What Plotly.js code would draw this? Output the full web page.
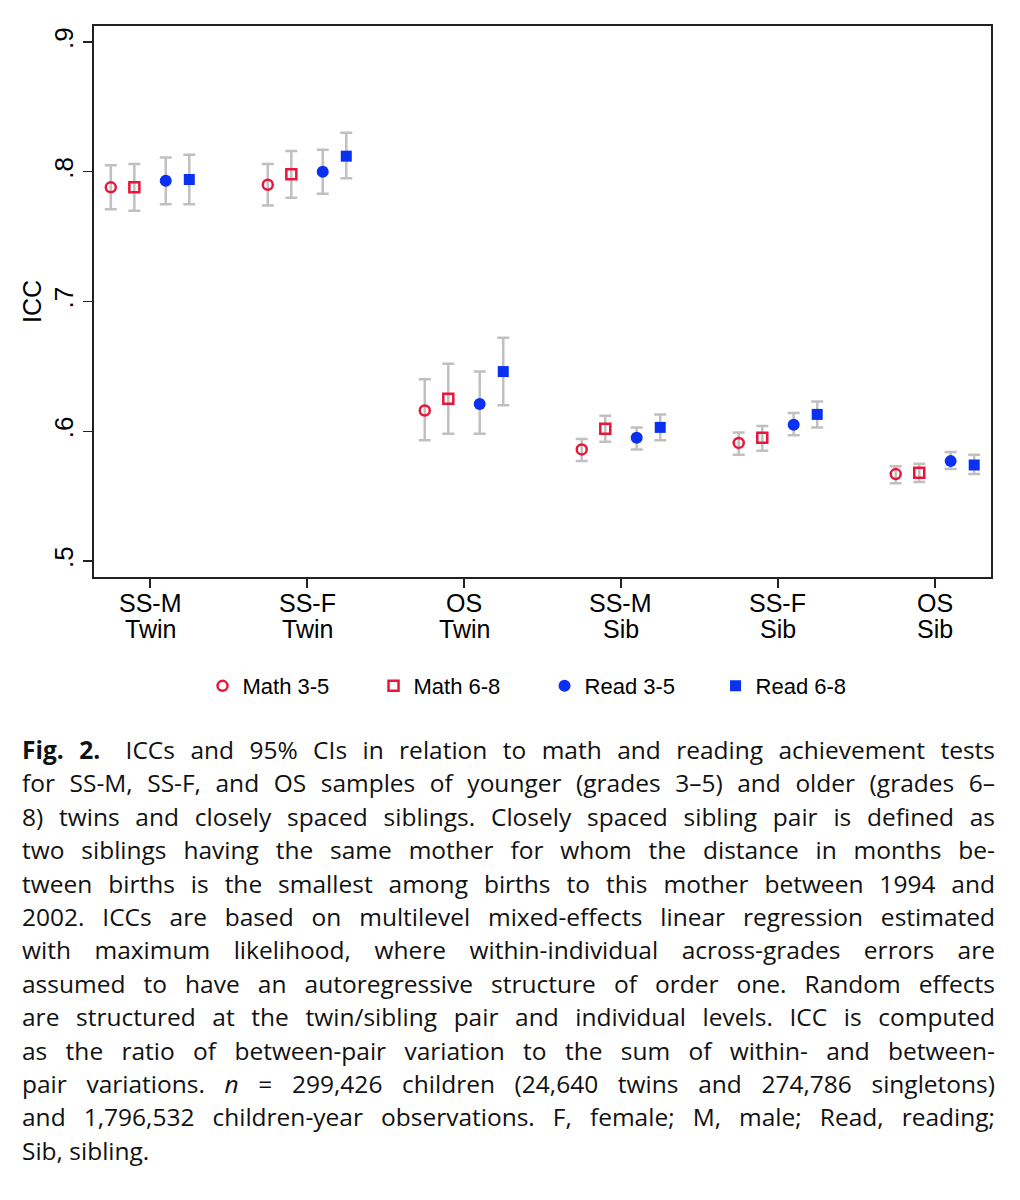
<!DOCTYPE html>
<html>
<head>
<meta charset="utf-8">
<script src="https://cdn.plot.ly/plotly-3.0.1.min.js"></script>
<style>
  html, body { margin: 0; padding: 0; background: #fff; }
  #wrap { position: relative; width: 1020px; height: 1200px; overflow: hidden; }
  #plot { position: absolute; left: 0; top: 0; width: 1020px; height: 720px; }
  #caption { position: absolute; left: 22px; top: 733px; width: 973px;
             font-family: "Open Sans", "Noto Sans", sans-serif; font-size: 24.5px;
             line-height: 33.4px; color: #111; }
  #caption .ln { white-space: nowrap; }
  #caption .ln span.inner { display: inline-block; white-space: nowrap; }
  #caption b { font-weight: 700; margin-right: 10px; }
</style>
</head>
<body>
<div id="wrap">
  <div id="plot"></div>
  <div id="caption"></div>
</div>
<script>
// ---- data ----
const catTop = ['SS-M', 'SS-F', 'OS', 'SS-M', 'SS-F', 'OS'];
const catBottom = ['Twin', 'Twin', 'Twin', 'Sib', 'Sib', 'Sib'];
const yTickVals = [0.5, 0.6, 0.7, 0.8, 0.9];
const yTickText = ['.5', '.6', '.7', '.8', '.9'];
const seriesNames = ['Math 3-5', 'Math 6-8', 'Read 3-5', 'Read 6-8'];

const math35   = [0.788, 0.790, 0.616, 0.586, 0.591, 0.567];
const math35Lo = [0.771, 0.774, 0.593, 0.577, 0.582, 0.560];
const math35Hi = [0.805, 0.806, 0.640, 0.594, 0.599, 0.573];

const math68   = [0.788, 0.798, 0.625, 0.602, 0.595, 0.568];
const math68Lo = [0.770, 0.780, 0.598, 0.592, 0.585, 0.561];
const math68Hi = [0.806, 0.816, 0.652, 0.612, 0.604, 0.575];

const read35   = [0.793, 0.800, 0.621, 0.595, 0.605, 0.577];
const read35Lo = [0.775, 0.783, 0.598, 0.586, 0.597, 0.571];
const read35Hi = [0.811, 0.817, 0.646, 0.603, 0.614, 0.584];

const read68   = [0.794, 0.812, 0.646, 0.603, 0.613, 0.574];
const read68Lo = [0.775, 0.795, 0.620, 0.593, 0.603, 0.567];
const read68Hi = [0.813, 0.830, 0.672, 0.613, 0.623, 0.582];

const captionLines = [
  '<b>Fig. 2.</b> ICCs and 95% CIs in relation to math and reading achievement tests',
  'for SS-M, SS-F, and OS samples of younger (grades 3\u20135) and older (grades 6\u2013',
  '8) twins and closely spaced siblings. Closely spaced sibling pair is defined as',
  'two siblings having the same mother for whom the distance in months be-',
  'tween births is the smallest among births to this mother between 1994 and',
  '2002. ICCs are based on multilevel mixed-effects linear regression estimated',
  'with maximum likelihood, where within-individual across-grades errors are',
  'assumed to have an autoregressive structure of order one. Random effects',
  'are structured at the twin/sibling pair and individual levels. ICC is computed',
  'as the ratio of between-pair variation to the sum of within- and between-',
  'pair variations. <i>n</i> = 299,426 children (24,640 twins and 274,786 singletons)',
  'and 1,796,532 children-year observations. F, female; M, male; Read, reading;',
  'Sib, sibling.'
];

// ---- styling ----
const RED = '#e8173a';
const BLUE = '#0a30f2';
const ERR = '#c0c0c0';
const FONT = '"Liberation Sans", Arial, Helvetica, sans-serif';
const offsets = [-0.25, -0.10, 0.10, 0.25];

function mk(vals, lo, hi, k, symbol, color, size, open) {
  const xs = vals.map((v, i) => i + 1 + offsets[k]);
  return {
    type: 'scatter', mode: 'markers', name: seriesNames[k],
    x: xs, y: vals,
    error_y: {
      type: 'data', symmetric: false,
      array: hi.map((h, i) => h - vals[i]),
      arrayminus: lo.map((l, i) => vals[i] - l),
      color: ERR, thickness: 2.5, width: 6
    },
    marker: open
      ? { symbol: symbol, size: size, color: color, line: { color: color, width: 2.5 } }
      : { symbol: symbol, size: size, color: color, line: { width: 0 } },
    hoverinfo: 'x+y'
  };
}

const traces = [
  mk(math35, math35Lo, math35Hi, 0, 'circle-open', RED, 10, true),
  mk(math68, math68Lo, math68Hi, 1, 'square-open', RED, 10, true),
  mk(read35, read35Lo, read35Hi, 2, 'circle', BLUE, 12, false),
  mk(read68, read68Lo, read68Hi, 3, 'square', BLUE, 11, false)
];

const tickPos = catTop.map((c, i) => i + 1);

// two-row category labels (rows placed as in the reference)
const labelFont = { family: FONT, size: 25, color: '#000' };
const annotations = [];
catTop.forEach((t, i) => annotations.push({
  x: i + 1, xref: 'x', y: -(603 - 577) / 551, yref: 'paper',
  text: t, showarrow: false, xanchor: 'center', yanchor: 'middle', font: labelFont
}));
catBottom.forEach((t, i) => annotations.push({
  x: i + 1, xref: 'x', y: -(629 - 577) / 551, yref: 'paper',
  text: t, showarrow: false, xanchor: 'center', yanchor: 'middle', font: labelFont
}));

const layout = {
  width: 1020, height: 720,
  margin: { l: 94, r: 29, t: 26, b: 143, autoexpand: false },
  paper_bgcolor: '#fff', plot_bgcolor: '#fff',
  font: { family: FONT, color: '#000' },
  showlegend: true,
  legend: {
    orientation: 'h', x: 0.121, xanchor: 'left', y: -(686 - 577) / 551, yanchor: 'middle',
    font: { family: FONT, size: 22, color: '#000' },
    entrywidth: 126, entrywidthmode: 'pixels', itemsizing: 'trace'
  },
  xaxis: {
    range: [0.643, 6.357], tickvals: tickPos, showticklabels: false,
    showgrid: false, zeroline: false, showline: true, mirror: true,
    linecolor: '#222', linewidth: 2, ticks: 'outside', ticklen: 9, tickwidth: 1.5,
    tickcolor: '#222'
  },
  yaxis: {
    range: [0.4877, 0.9123], tickvals: yTickVals, ticktext: yTickText, tickangle: -90,
    showgrid: false, zeroline: false, showline: true, mirror: true,
    linecolor: '#222', linewidth: 2, ticks: 'outside', ticklen: 9, tickwidth: 1.5,
    tickcolor: '#222', tickfont: { family: FONT, size: 26, color: '#000' },
    title: { text: 'ICC', font: { family: FONT, size: 25, color: '#000' }, standoff: 0 }
  },
  annotations: annotations
};

Plotly.newPlot('plot', traces, layout, { displayModeBar: false, staticPlot: true });

// ---- caption (justified line by line) ----
const cap = document.getElementById('caption');
captionLines.forEach(l => {
  const d = document.createElement('div');
  d.className = 'ln';
  d.innerHTML = '<span class="inner">' + l + '</span>';
  cap.appendChild(d);
});
function justify() {
  const W = 973;
  const lines = cap.querySelectorAll('.ln');
  lines.forEach((d, idx) => {
    if (idx === lines.length - 1) return;
    const s = d.querySelector('.inner');
    s.style.wordSpacing = '0px';
    const w = s.getBoundingClientRect().width;
    const n = (s.textContent.match(/ /g) || []).length;
    if (n > 0) s.style.wordSpacing = ((W - w) / n) + 'px';
  });
}
justify();
if (document.fonts && document.fonts.ready) document.fonts.ready.then(justify);
</script>
</body>
</html>
